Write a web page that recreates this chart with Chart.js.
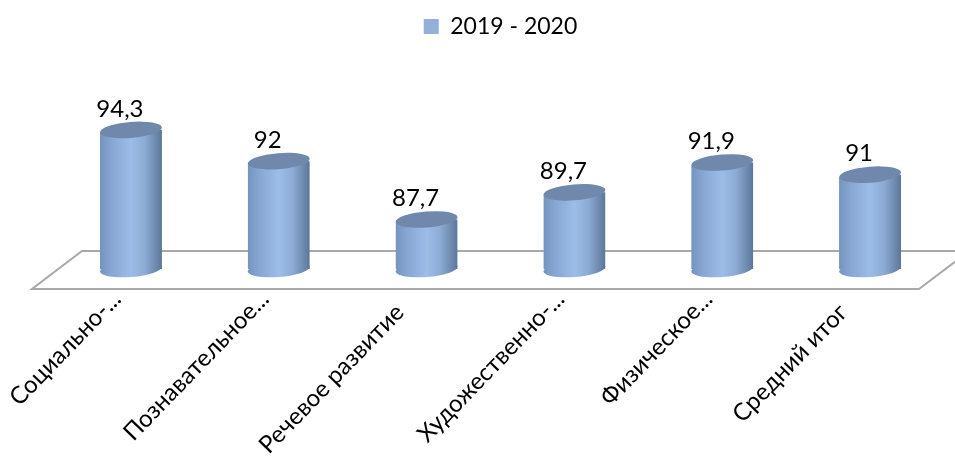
<!DOCTYPE html>
<html lang="ru">
<head>
<meta charset="utf-8">
<title>2019 - 2020</title>
<style>
  html, body { margin: 0; padding: 0; background: #fff; }
  canvas { display: block; }
</style>
<script src="https://cdn.jsdelivr.net/npm/chart.js@4/dist/chart.umd.js"></script>
</head>
<body>
<canvas id="chart" width="955" height="460"></canvas>
<script>
const categories = [
  'Социально-...',
  'Познавательное...',
  'Речевое развитие',
  'Художественно-...',
  'Физическое...',
  'Средний итог'
];
const seriesName = '2019 - 2020';
const seriesValues = [94.3, 92, 87.7, 89.7, 91.9, 91];
const axisMin = 84.05;
const axisMax = 94.96;

const FONT = 'Lato, Carlito, "Open Sans", sans-serif';
const BAR_SHARE = 0.42;
const CAP_TILT = -0.08;

// 바닥 평행사변형 + 원기둥 모양 (bar 요소 좌표 기준)
function capPath(ctx, x, y, rx) {
  ctx.ellipse(x, y, rx, 8, CAP_TILT, 0, Math.PI * 2);
}

const floorPlugin = {
  id: 'floor',
  beforeDraw(chart) {
    const { ctx, chartArea } = chart;
    const backY = chartArea.bottom - 18;
    const frontY = chartArea.bottom + 20;
    ctx.save();
    ctx.strokeStyle = '#a8a8a8';
    ctx.lineWidth = 2;
    ctx.beginPath();
    ctx.moveTo(chartArea.left + 25, backY);
    ctx.lineTo(chartArea.right + 25, backY);
    ctx.lineTo(chartArea.right - 25, frontY);
    ctx.lineTo(chartArea.left - 25, frontY);
    ctx.closePath();
    ctx.stroke();
    ctx.restore();
  }
};

const cylinderPlugin = {
  id: 'cylinder',
  beforeInit(chart) {
    // 범례 높이를 고정해서 플롯 위쪽 여백 확보
    const fit = chart.legend.fit;
    chart.legend.fit = function () {
      fit.call(this);
      this.height = 121;
    };
  },
  beforeDatasetDraw(chart) {
    const { ctx } = chart;
    const bars = chart.getDatasetMeta(0).data;
    ctx.save();
    // 아래쪽 타원
    bars.forEach(bar => {
      ctx.fillStyle = bar.options.backgroundColor;
      ctx.beginPath();
      capPath(ctx, bar.x, bar.base, bar.width / 2);
      ctx.fill();
    });
    // 윗면 모서리가 타원 밖으로 나오지 않게 클립
    ctx.beginPath();
    bars.forEach(bar => {
      const rx = bar.width / 2;
      const dy = Math.sin(CAP_TILT) * rx;
      ctx.moveTo(bar.x - rx, bar.y - dy);
      ctx.lineTo(bar.x + rx, bar.y + dy);
      ctx.lineTo(bar.x + rx, bar.base + 1);
      ctx.lineTo(bar.x - rx, bar.base + 1);
      ctx.closePath();
    });
    ctx.clip();
  },
  afterDatasetDraw(chart) {
    const { ctx } = chart;
    ctx.restore();
    const bars = chart.getDatasetMeta(0).data;
    ctx.save();
    bars.forEach((bar, i) => {
      ctx.fillStyle = '#6f88ab';
      ctx.beginPath();
      capPath(ctx, bar.x, bar.y, bar.width / 2);
      ctx.fill();

      // 값 라벨
      ctx.fillStyle = '#000';
      ctx.font = '24px ' + FONT;
      ctx.textAlign = 'center';
      ctx.textBaseline = 'middle';
      ctx.fillText(String(seriesValues[i]).replace('.', ','), bar.x - 11, bar.y - 21);
    });
    ctx.restore();
  }
};

function barFill(context) {
  const { chart, dataIndex } = context;
  const xScale = chart.scales.x;
  if (dataIndex === undefined || !chart.chartArea || !xScale) return '#92b0d8';
  const cx = xScale.getPixelForValue(dataIndex);
  const half = xScale.width / categories.length * BAR_SHARE / 2;
  const g = chart.ctx.createLinearGradient(cx - half, 0, cx + half, 0);
  g.addColorStop(0, '#7593bd');
  g.addColorStop(0.2, '#88a8d3');
  g.addColorStop(0.5, '#9cbde7');
  g.addColorStop(0.72, '#8dabd4');
  g.addColorStop(1, '#5c7699');
  return g;
}

new Chart(document.getElementById('chart'), {
  type: 'bar',
  data: {
    labels: categories,
    datasets: [{
      label: seriesName,
      data: seriesValues,
      base: axisMin,
      backgroundColor: barFill,
      borderWidth: 0,
      barPercentage: BAR_SHARE,
      categoryPercentage: 1
    }]
  },
  options: {
    responsive: false,
    animation: false,
    layout: { padding: { left: 57, right: 11, top: 0, bottom: 0 } },
    scales: {
      x: {
        grid: { display: false },
        border: { display: false },
        afterFit(scale) {
          scale.height = 191;
          scale.paddingLeft = 0;
          scale.paddingRight = 0;
        },
        ticks: {
          autoSkip: false,
          minRotation: 46,
          maxRotation: 46,
          padding: 8,
          labelOffset: -14,
          color: '#000',
          font: { family: FONT, size: 24 },
          // 말줄임 없는 라벨은 원본처럼 끝이 조금 더 안쪽
          callback(value) {
            const label = categories[value];
            return label.endsWith('...') ? label : label + '   ';
          }
        }
      },
      y: {
        display: false,
        min: axisMin,
        max: axisMax
      }
    },
    plugins: {
      legend: {
        position: 'top',
        labels: {
          boxWidth: 15,
          boxHeight: 15,
          padding: 15,
          color: '#000',
          font: { family: FONT, size: 23 },
          generateLabels(chart) {
            return Chart.defaults.plugins.legend.labels.generateLabels(chart)
              .map(item => Object.assign(item, { fillStyle: '#92b0d8' }));
          }
        }
      },
      tooltip: { enabled: false }
    }
  },
  plugins: [floorPlugin, cylinderPlugin]
});
</script>
</body>
</html>
